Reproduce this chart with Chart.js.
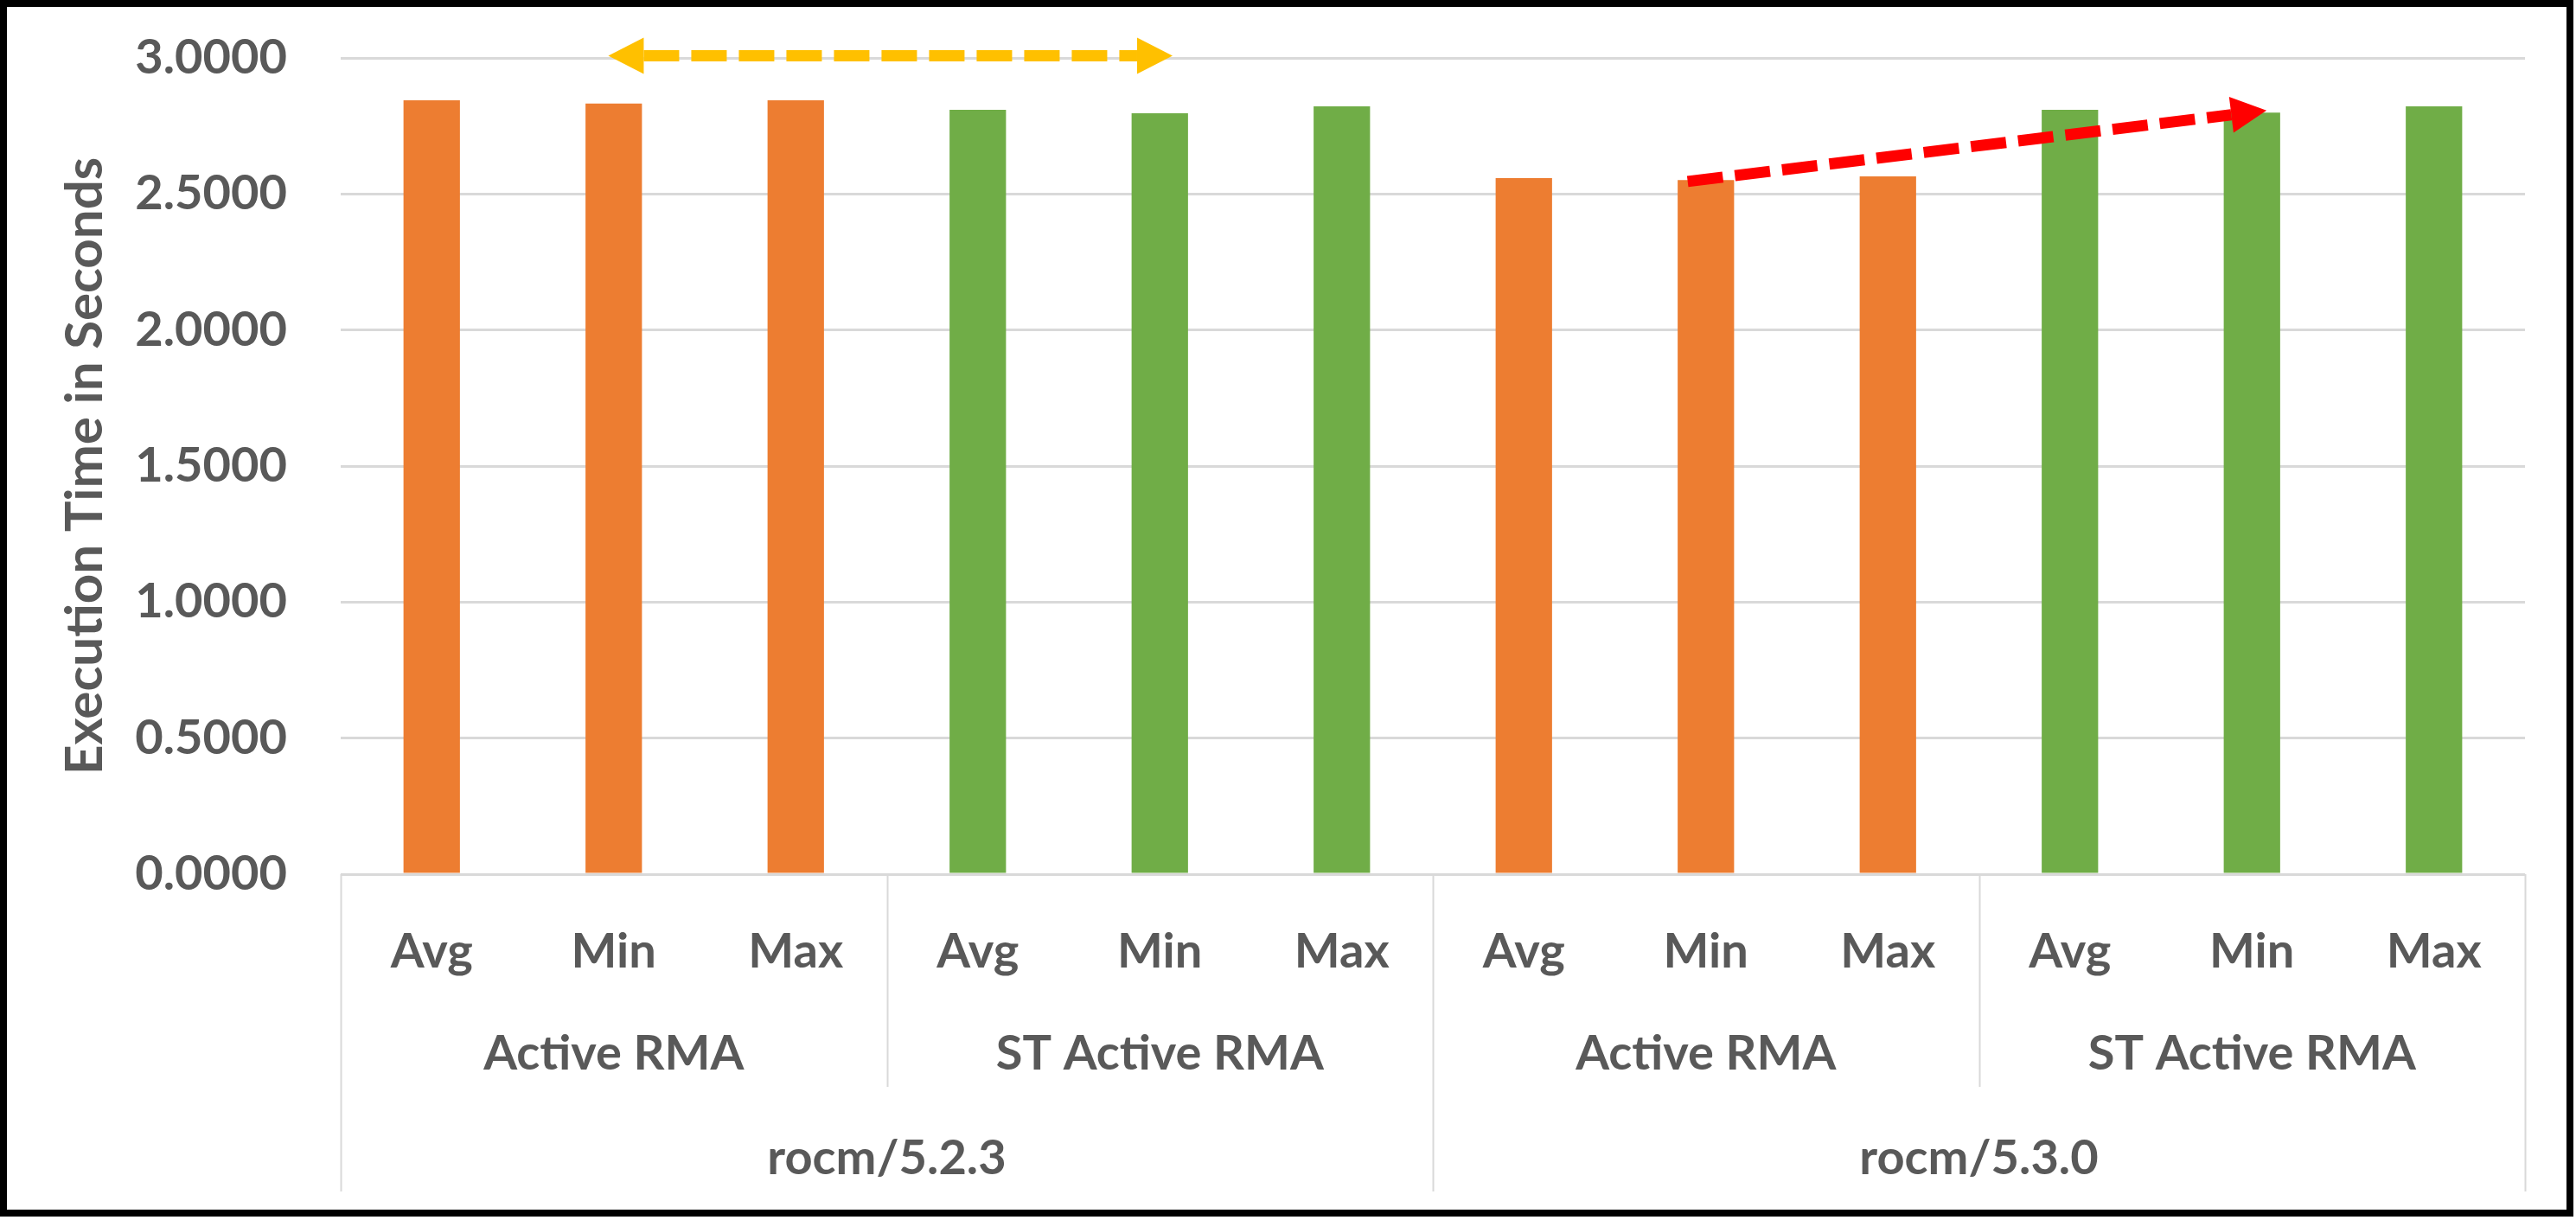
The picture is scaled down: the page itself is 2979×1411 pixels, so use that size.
<!DOCTYPE html>
<html>
<head>
<meta charset="utf-8">
<script src="https://cdn.jsdelivr.net/npm/chart.js@4.4.1/dist/chart.umd.min.js"></script>
<style>
  html, body { margin: 0; padding: 0; background: #fff; overflow: hidden; }
  #wrap { width: 2976px; height: 1407px; box-sizing: border-box; border: 8px solid #000; background: #fff; }
</style>
</head>
<body>
<div id="wrap"><canvas id="execTime"></canvas></div>
<script>
// data
var categories = ['Avg', 'Min', 'Max', 'Avg', 'Min', 'Max', 'Avg', 'Min', 'Max', 'Avg', 'Min', 'Max'];
var execSeconds = [2.844, 2.832, 2.844, 2.809, 2.797, 2.822, 2.558, 2.551, 2.565, 2.809, 2.799, 2.822];
var modes = ['Active RMA', 'ST Active RMA', 'Active RMA', 'ST Active RMA'];
var versions = ['rocm/5.2.3', 'rocm/5.3.0'];
var yTicks = [0, 0.5, 1, 1.5, 2, 2.5, 3];

var ORANGE = '#ED7D31';
var GREEN = '#70AD47';
var TEXT = '#595959';
var GRID = '#D9D9D9';
var FONT = 'Lato';

// orange for Active RMA, green for ST Active RMA
var barColors = categories.map(function (c, i) {
    return Math.floor(i / 3) % 2 === 0 ? ORANGE : GREEN;
});

// arrows drawn over the bars, in data units (category index, seconds)
var arrows = [
    { from: [0.97, 3.008], to: [4.07, 3.008], color: '#FFC000', both: true },
    { from: [6.9, 2.546], to: [10.08, 2.807], color: '#FF0000', both: false }
];

function drawArrow(ctx, x1, y1, x2, y2, color, both) {
    var a = Math.atan2(y2 - y1, x2 - x1);
    var c = Math.cos(a), s = Math.sin(a);
    var head = 41, half = 21;
    ctx.save();
    ctx.strokeStyle = color;
    ctx.fillStyle = color;
    ctx.lineWidth = 13;
    ctx.lineCap = 'butt';
    ctx.setLineDash([41, 14]);
    ctx.beginPath();
    if (both) ctx.moveTo(x1 + c * head, y1 + s * head); else ctx.moveTo(x1, y1);
    ctx.lineTo(x2 - c * head, y2 - s * head);
    ctx.stroke();
    ctx.setLineDash([]);
    var tip = function (tx, ty, dc, ds) {
        var bx = tx - dc * head, by = ty - ds * head;
        ctx.beginPath();
        ctx.moveTo(tx, ty);
        ctx.lineTo(bx - ds * half, by + dc * half);
        ctx.lineTo(bx + ds * half, by - dc * half);
        ctx.closePath();
        ctx.fill();
    };
    tip(x2, y2, c, s);
    if (both) tip(x1, y1, -c, -s);
    ctx.restore();
}

var arrowPlugin = {
    id: 'arrowPlugin',
    afterDatasetsDraw: function (chart) {
        var x = chart.scales.x, y = chart.scales.y;
        arrows.forEach(function (ar) {
            drawArrow(chart.ctx,
                x.getPixelForValue(ar.from[0]), y.getPixelForValue(ar.from[1]),
                x.getPixelForValue(ar.to[0]), y.getPixelForValue(ar.to[1]),
                ar.color, ar.both);
        });
    }
};

// second and third row of the category axis
var groupAxis = {
    id: 'groupAxis',
    afterDraw: function (chart) {
        var x = chart.scales.x;
        var ctx = chart.ctx;
        var top = x.top;
        var edge = function (i) { return x.getPixelForValue(i - 0.5); };
        var perMode = categories.length / modes.length;
        var perVersion = categories.length / versions.length;
        ctx.save();
        ctx.strokeStyle = GRID;
        ctx.lineWidth = 2;
        for (var m = 1; m < modes.length; m++) {
            if ((m * perMode) % perVersion === 0) continue;
            var px = Math.round(edge(m * perMode)) + 0.5;
            ctx.beginPath();
            ctx.moveTo(px, top);
            ctx.lineTo(px, top + 246);
            ctx.stroke();
        }
        for (var v = 0; v <= versions.length; v++) {
            var vx = Math.round(edge(v * perVersion)) + 0.5;
            ctx.beginPath();
            ctx.moveTo(vx, top);
            ctx.lineTo(vx, x.bottom);
            ctx.stroke();
        }
        ctx.fillStyle = TEXT;
        ctx.font = 'bold 56px ' + FONT;
        ctx.textAlign = 'center';
        ctx.textBaseline = 'alphabetic';
        modes.forEach(function (name, i) {
            var cx = (edge(i * perMode) + edge((i + 1) * perMode)) / 2;
            ctx.fillText(name, cx, top + 226);
        });
        versions.forEach(function (name, i) {
            var cx = (edge(i * perVersion) + edge((i + 1) * perVersion)) / 2;
            ctx.fillText(name, cx, top + 347);
        });
        ctx.restore();
    }
};

Chart.defaults.font.family = FONT;
Chart.defaults.font.weight = 'bold';
Chart.defaults.color = TEXT;

var ctx = document.getElementById('execTime').getContext('2d');
var execChart = new Chart(ctx, {
    type: 'bar',
    data: {
        labels: categories,
        datasets: [{
            label: 'Execution Time in Seconds',
            data: execSeconds,
            backgroundColor: barColors,
            borderWidth: 0,
            categoryPercentage: 1,
            barPercentage: 0.31
        }]
    },
    options: {
        responsive: true,
        maintainAspectRatio: false,
        animation: false,
        layout: { padding: { left: 0, top: 59, right: 48, bottom: 21 } },
        plugins: {
            legend: { display: false },
            tooltip: { enabled: false }
        },
        scales: {
            x: {
                grid: { display: false },
                border: { display: false },
                ticks: {
                    font: { size: 56, weight: 'bold' },
                    color: TEXT,
                    padding: 48,
                    maxRotation: 0,
                    autoSkip: false
                },
                afterFit: function (scale) { scale.height = 367; }
            },
            y: {
                min: 0,
                max: 3,
                afterBuildTicks: function (scale) {
                    scale.ticks = yTicks.map(function (v) { return { value: v }; });
                },
                grid: { color: GRID, lineWidth: 3, drawTicks: false },
                border: { display: false },
                ticks: {
                    font: { size: 56, weight: 'bold' },
                    color: TEXT,
                    padding: 62,
                    callback: function (v) { return Number(v).toFixed(4); }
                },
                title: {
                    display: true,
                    text: 'Execution Time in Seconds',
                    font: { size: 60, weight: 'bold' },
                    color: TEXT,
                    padding: 55
                },
                afterFit: function (scale) {
                    scale.width = 386;
                    scale.paddingTop = 0;
                    scale.paddingBottom = 0;
                }
            }
        }
    },
    plugins: [groupAxis, arrowPlugin]
});
</script>
</body>
</html>
